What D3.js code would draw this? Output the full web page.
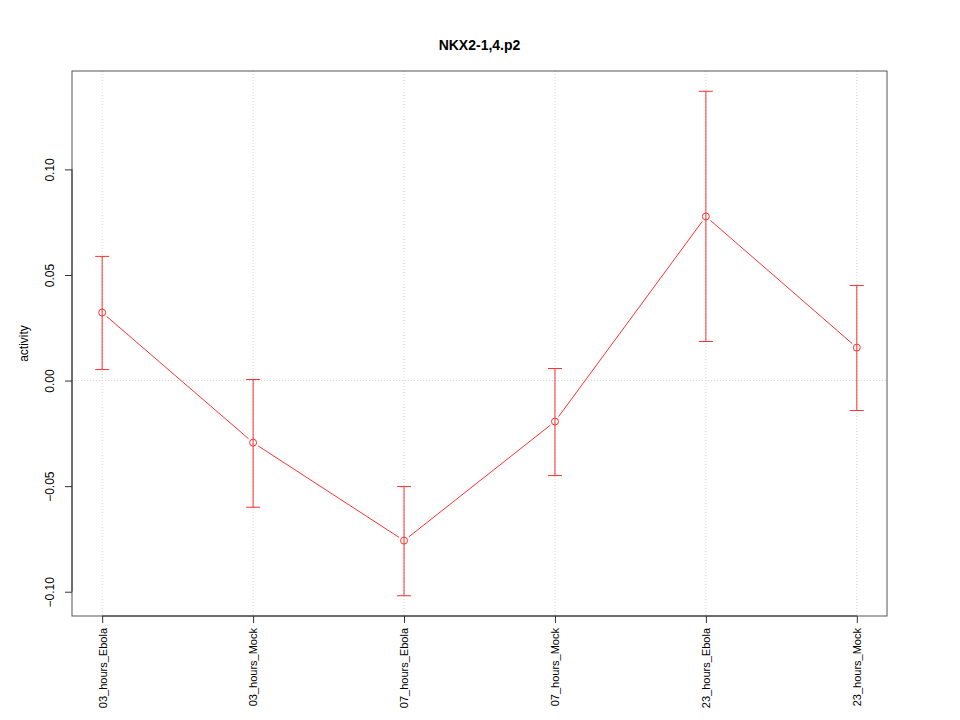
<!DOCTYPE html>
<html><head><meta charset="utf-8">
<script src="https://cdn.jsdelivr.net/npm/d3@7"></script>
<style>body{margin:0;background:#fff}svg{display:block;font-family:"Liberation Sans",Arial,sans-serif}</style>
</head><body>
<script>
const categories = ["03_hours_Ebola","03_hours_Mock","07_hours_Ebola","07_hours_Mock","23_hours_Ebola","23_hours_Mock"];
const means = [0.0322, -0.0294, -0.0758, -0.0194, 0.0777, 0.0156];
const upper = [0.0588, 0.0005, -0.0502, 0.0057, 0.1370, 0.0450];
const lower = [0.0052, -0.0600, -0.1019, -0.0450, 0.0185, -0.0142];
const yTicks = [-0.10, -0.05, 0.00, 0.05, 0.10];
const title = "NKX2-1,4.p2";
const yLabel = "activity";

const W = 960, H = 720;
const L = 72, R = 887, T = 71, B = 616;
const svg = d3.select("body").append("svg").attr("width", W).attr("height", H);

const x = d3.scaleLinear().domain([-0.2, categories.length - 1 + 0.2]).range([L, R]);
const y = d3.scaleLinear().domain([-0.1115, 0.1466]).range([B, T]);
const red = "#ff3030";

// grid
svg.append("g").selectAll("line").data(categories).join("line")
  .attr("x1", (d,i) => x(i)).attr("x2", (d,i) => x(i)).attr("y1", T).attr("y2", B)
  .attr("stroke", "#d3d3d3").attr("stroke-dasharray", "1,2");
svg.append("line").attr("x1", L).attr("x2", R).attr("y1", y(0)).attr("y2", y(0))
  .attr("stroke", "#d3d3d3").attr("stroke-dasharray", "1,2");

// box
svg.append("rect").attr("x", L).attr("y", T).attr("width", R - L).attr("height", B - T)
  .attr("fill", "none").attr("stroke", "#555").attr("stroke-width", 1);

// axes
const yAxis = svg.append("g").attr("transform", `translate(${L},0)`)
  .call(d3.axisLeft(y).tickValues(yTicks).tickFormat(d3.format(".2f")).tickSize(7).tickPadding(0));
yAxis.select(".domain").attr("d", `M0,${y(-0.10)}V${y(0.10)}`).attr("stroke", "#333");
yAxis.selectAll(".tick line").attr("stroke", "#333");
yAxis.selectAll(".tick text").attr("transform", d => `translate(-22,0) rotate(-90)`)
  .attr("x", 0).attr("dy", "0.35em").attr("text-anchor", "middle")
  .attr("font-size", 12).attr("fill", "#000").style("font-family", '"Liberation Sans",Arial,sans-serif');

const xAxis = svg.append("g").attr("transform", `translate(0,${B})`)
  .call(d3.axisBottom(x).tickValues(d3.range(categories.length)).tickFormat(i => categories[i]).tickSize(7));
xAxis.select(".domain").attr("d", `M${x(0)},0H${x(categories.length-1)}`).attr("stroke", "#333");
xAxis.selectAll(".tick line").attr("stroke", "#333");
xAxis.selectAll(".tick text").attr("transform", "rotate(-90)")
  .attr("x", -12).attr("y", 0).attr("dy", "0.35em").attr("text-anchor", "end")
  .attr("font-size", 11).attr("fill", "#000").style("font-family", '"Liberation Sans",Arial,sans-serif');

// title & label
svg.append("text").attr("x", (L + R) / 2).attr("y", 50).attr("text-anchor", "middle")
  .attr("font-size", 14).attr("font-weight", "bold").text(title);
svg.append("text").attr("transform", `translate(28,${(T + B) / 2}) rotate(-90)`)
  .attr("text-anchor", "middle").attr("font-size", 12).text(yLabel);

// connecting lines with gaps
const gap = 6;
const segs = [];
for (let i = 0; i < means.length - 1; i++) {
  const x1 = x(i), y1 = y(means[i]), x2 = x(i+1), y2 = y(means[i+1]);
  const dx = x2 - x1, dy = y2 - y1, len = Math.hypot(dx, dy);
  const ux = dx / len, uy = dy / len;
  segs.push([x1 + ux*gap, y1 + uy*gap, x2 - ux*gap, y2 - uy*gap]);
}
svg.append("g").selectAll("line").data(segs).join("line")
  .attr("x1", d => d[0]).attr("y1", d => d[1]).attr("x2", d => d[2]).attr("y2", d => d[3])
  .attr("stroke", red).attr("stroke-width", 1);

// error bars
const eb = svg.append("g").attr("stroke", red).attr("stroke-width", 1);
eb.selectAll(".v").data(means).join("line").attr("class","v")
  .attr("x1", (d,i) => x(i)).attr("x2", (d,i) => x(i))
  .attr("y1", (d,i) => y(upper[i])).attr("y2", (d,i) => y(lower[i]));
eb.selectAll(".cu").data(means).join("line").attr("class","cu")
  .attr("x1", (d,i) => x(i) - 7).attr("x2", (d,i) => x(i) + 7)
  .attr("y1", (d,i) => y(upper[i])).attr("y2", (d,i) => y(upper[i]));
eb.selectAll(".cl").data(means).join("line").attr("class","cl")
  .attr("x1", (d,i) => x(i) - 7).attr("x2", (d,i) => x(i) + 7)
  .attr("y1", (d,i) => y(lower[i])).attr("y2", (d,i) => y(lower[i]));

// points
svg.append("g").selectAll("circle").data(means).join("circle")
  .attr("cx", (d,i) => x(i)).attr("cy", d => y(d)).attr("r", 3.5)
  .attr("fill", "none").attr("stroke", red).attr("stroke-width", 1);
</script>
</body></html>
